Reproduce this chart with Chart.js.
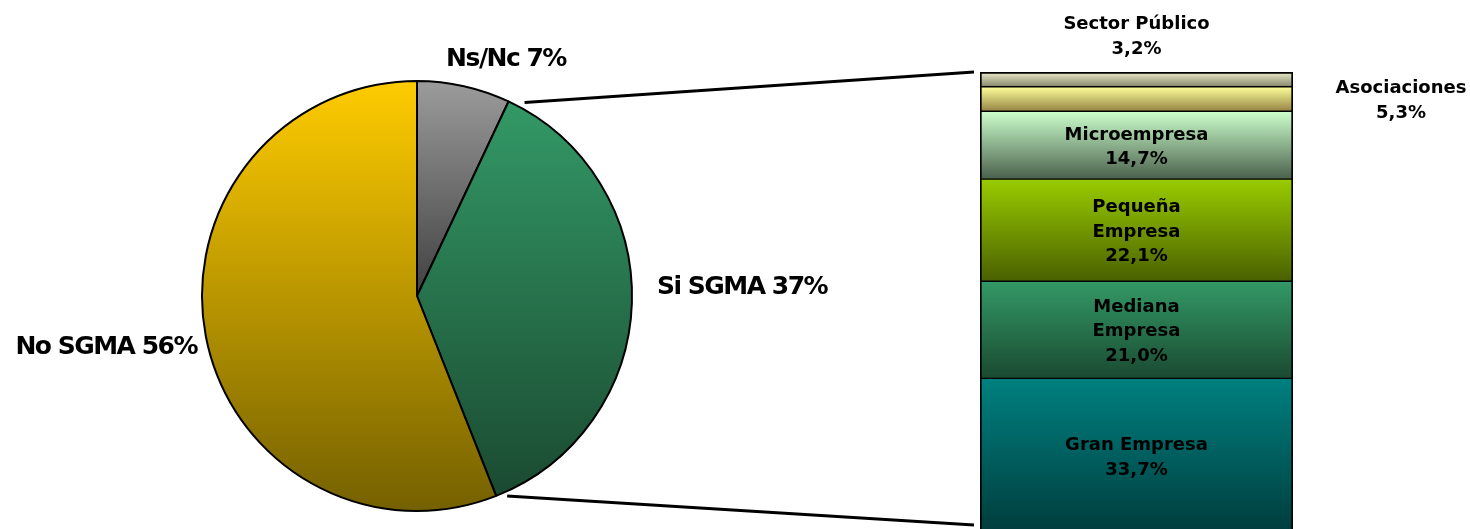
<!DOCTYPE html>
<html><head><meta charset="utf-8">
<script src="https://cdn.jsdelivr.net/npm/chart.js@4/dist/chart.umd.min.js"></script>
<style>
html,body{margin:0;padding:0;background:#fff;overflow:hidden;width:1470px;height:529px}
#wrap{position:relative;width:1470px;height:540px}
canvas{position:absolute;left:0;top:0}
</style></head><body>
<div id="wrap"><canvas id="pie" width="1470" height="540"></canvas><canvas id="bar" width="1470" height="540"></canvas></div>
<script>
// ---- data ----
const pieLabels = ['Ns/Nc', 'Si SGMA', 'No SGMA'];
const pieValues = [7, 37, 56];
const pieTopColors = ['#9c9c9c', '#339966', '#ffcc00'];
const pieBottomColors = ['#404040', '#1a4a31', '#746000'];

const barCategories = ['Gran Empresa', 'Mediana Empresa', 'Pequeña Empresa', 'Microempresa', 'Asociaciones', 'Sector Público'];
const barValues = [33.7, 21.0, 22.1, 14.7, 5.3, 3.2];
const barLabelLines = [['Gran Empresa'], ['Mediana', 'Empresa'], ['Pequeña', 'Empresa'], ['Microempresa'], ['Asociaciones'], ['Sector Público']];
const barTopColors = ['#008080', '#339966', '#99cc00', '#ccffcc', '#ffff99', '#ececcc'];
const barBottomColors = ['#003c3c', '#1a4a31', '#4a6000', '#4a604c', '#948444', '#86866a'];

const fmt = v => v.toFixed(1).replace('.', ',') + '%';
Chart.defaults.font.family = "'DejaVu Sans', Verdana, sans-serif";

// ---- pie ----
function pieFill(c) {
  const chart = c.chart, ca = chart.chartArea, i = c.dataIndex;
  if (!ca) return pieTopColors[i];
  const cx = (ca.left + ca.right) / 2, cy = (ca.top + ca.bottom) / 2, r = Math.min(ca.width, ca.height) / 2;
  const total = pieValues.reduce((a, b) => a + b, 0);
  let s = 0; for (let k = 0; k < i; k++) s += pieValues[k];
  const a0 = s / total * 2 * Math.PI, a1 = (s + pieValues[i]) / total * 2 * Math.PI;
  let minY = cy, maxY = cy;
  for (let k = 0; k <= 90; k++) {
    const a = a0 + (a1 - a0) * k / 90, y = cy - r * Math.cos(a);
    minY = Math.min(minY, y); maxY = Math.max(maxY, y);
  }
  const g = chart.ctx.createLinearGradient(0, minY, 0, maxY);
  g.addColorStop(0, pieTopColors[i]); g.addColorStop(1, pieBottomColors[i]);
  return g;
}

const pieLabelPlugin = {
  id: 'pieLabels',
  afterDraw(chart) {
    const ctx = chart.ctx, arcs = chart.getDatasetMeta(0).data;
    const cx = arcs[0].x, cy = arcs[0].y;
    const place = [{dx: 89, dy: -230, align: 'center'}, {dx: 240, dy: -2, align: 'left'}, {dx: -220, dy: 58, align: 'right'}];
    ctx.save();
    ctx.font = "bold 25px 'DejaVu Sans'";
    ctx.fillStyle = '#000';
    ctx.textBaseline = 'alphabetic';
    ctx.letterSpacing = '-1.5px';
    pieLabels.forEach((lab, i) => {
      ctx.textAlign = place[i].align;
      ctx.fillText(lab + ' ' + pieValues[i] + '%', cx + place[i].dx, cy + place[i].dy);
    });
    ctx.restore();
  }
};

const pieChart = new Chart(document.getElementById('pie'), {
  type: 'pie',
  data: { labels: pieLabels, datasets: [{ data: pieValues, backgroundColor: pieFill, borderColor: '#000', borderWidth: 2 }] },
  options: {
    responsive: false, animation: false,
    layout: { padding: { left: 201, right: 1470 - 633, top: 80, bottom: 540 - 512 } },
    plugins: { legend: { display: false }, tooltip: { enabled: false } }
  },
  plugins: [pieLabelPlugin]
});

// ---- bar ----
function barFill(c) {
  const chart = c.chart, i = c.datasetIndex, y = chart.scales && chart.scales.y;
  if (!chart.chartArea || !y) return barTopColors[i];
  let base = 0; for (let k = 0; k < i; k++) base += barValues[k];
  const yT = y.getPixelForValue(base + barValues[i]), yB = y.getPixelForValue(base);
  const g = chart.ctx.createLinearGradient(0, yT, 0, yB);
  g.addColorStop(0, barTopColors[i]); g.addColorStop(1, barBottomColors[i]);
  return g;
}

const barLabelPlugin = {
  id: 'barLabels',
  afterDraw(chart) {
    const ctx = chart.ctx;
    ctx.save();
    const fs = 18;
    ctx.font = "bold " + fs + "px 'DejaVu Sans'";
    ctx.fillStyle = '#000';
    ctx.textAlign = 'center';
    ctx.textBaseline = 'alphabetic';
    const lh = 24.5, capOff = 0.365 * fs;
    barCategories.forEach((name, i) => {
      const bar = chart.getDatasetMeta(i).data[0];
      const lines = barLabelLines[i].concat([fmt(barValues[i])]);
      const n = lines.length;
      const right = bar.x + bar.width / 2;
      let x = bar.x, cyMid = (bar.y + bar.base) / 2;
      if (i === 4) { x = right + 108; }
      if (i === 5) { cyMid = bar.y - 25 - (n - 1) * lh / 2; }
      lines.forEach((t, k) => {
        ctx.fillText(t, x, cyMid + (k - (n - 1) / 2) * lh + capOff);
      });
    });
    // connector lines from pie to bar
    const arcs = pieChart.getDatasetMeta(0).data;
    const topBar = chart.getDatasetMeta(barCategories.length - 1).data[0];
    const botBar = chart.getDatasetMeta(0).data[0];
    const barLeft = topBar.x - topBar.width / 2;
    const p = (arc) => ({ x: arc.x + arc.outerRadius * Math.cos(arc.endAngle), y: arc.y + arc.outerRadius * Math.sin(arc.endAngle) });
    const p0 = p(arcs[0]), p1 = p(arcs[1]);
    ctx.strokeStyle = '#000'; ctx.lineWidth = 3;
    ctx.beginPath();
    ctx.moveTo(p0.x + 16, p0.y + 1); ctx.lineTo(barLeft - 6, topBar.y);
    ctx.moveTo(p1.x + 11, p1.y); ctx.lineTo(barLeft - 6, botBar.base - 9);
    ctx.stroke();
    ctx.restore();
  }
};

new Chart(document.getElementById('bar'), {
  type: 'bar',
  data: {
    labels: [''],
    datasets: barCategories.map((name, i) => ({
      label: name, data: [barValues[i]],
      backgroundColor: barFill, borderColor: '#000',
      borderWidth: { left: 2, right: 2, top: i === barCategories.length - 1 ? 2 : 1, bottom: 1 },
      borderSkipped: false, barPercentage: 1, categoryPercentage: 1
    }))
  },
  options: {
    responsive: false, animation: false,
    layout: { padding: { left: 980, right: 1470 - 1293, top: 72, bottom: 540 - 534 } },
    scales: { x: { stacked: true, display: false }, y: { stacked: true, display: false, min: 0, max: 100 } },
    plugins: { legend: { display: false }, tooltip: { enabled: false } }
  },
  plugins: [barLabelPlugin]
});
</script>
</body></html>
